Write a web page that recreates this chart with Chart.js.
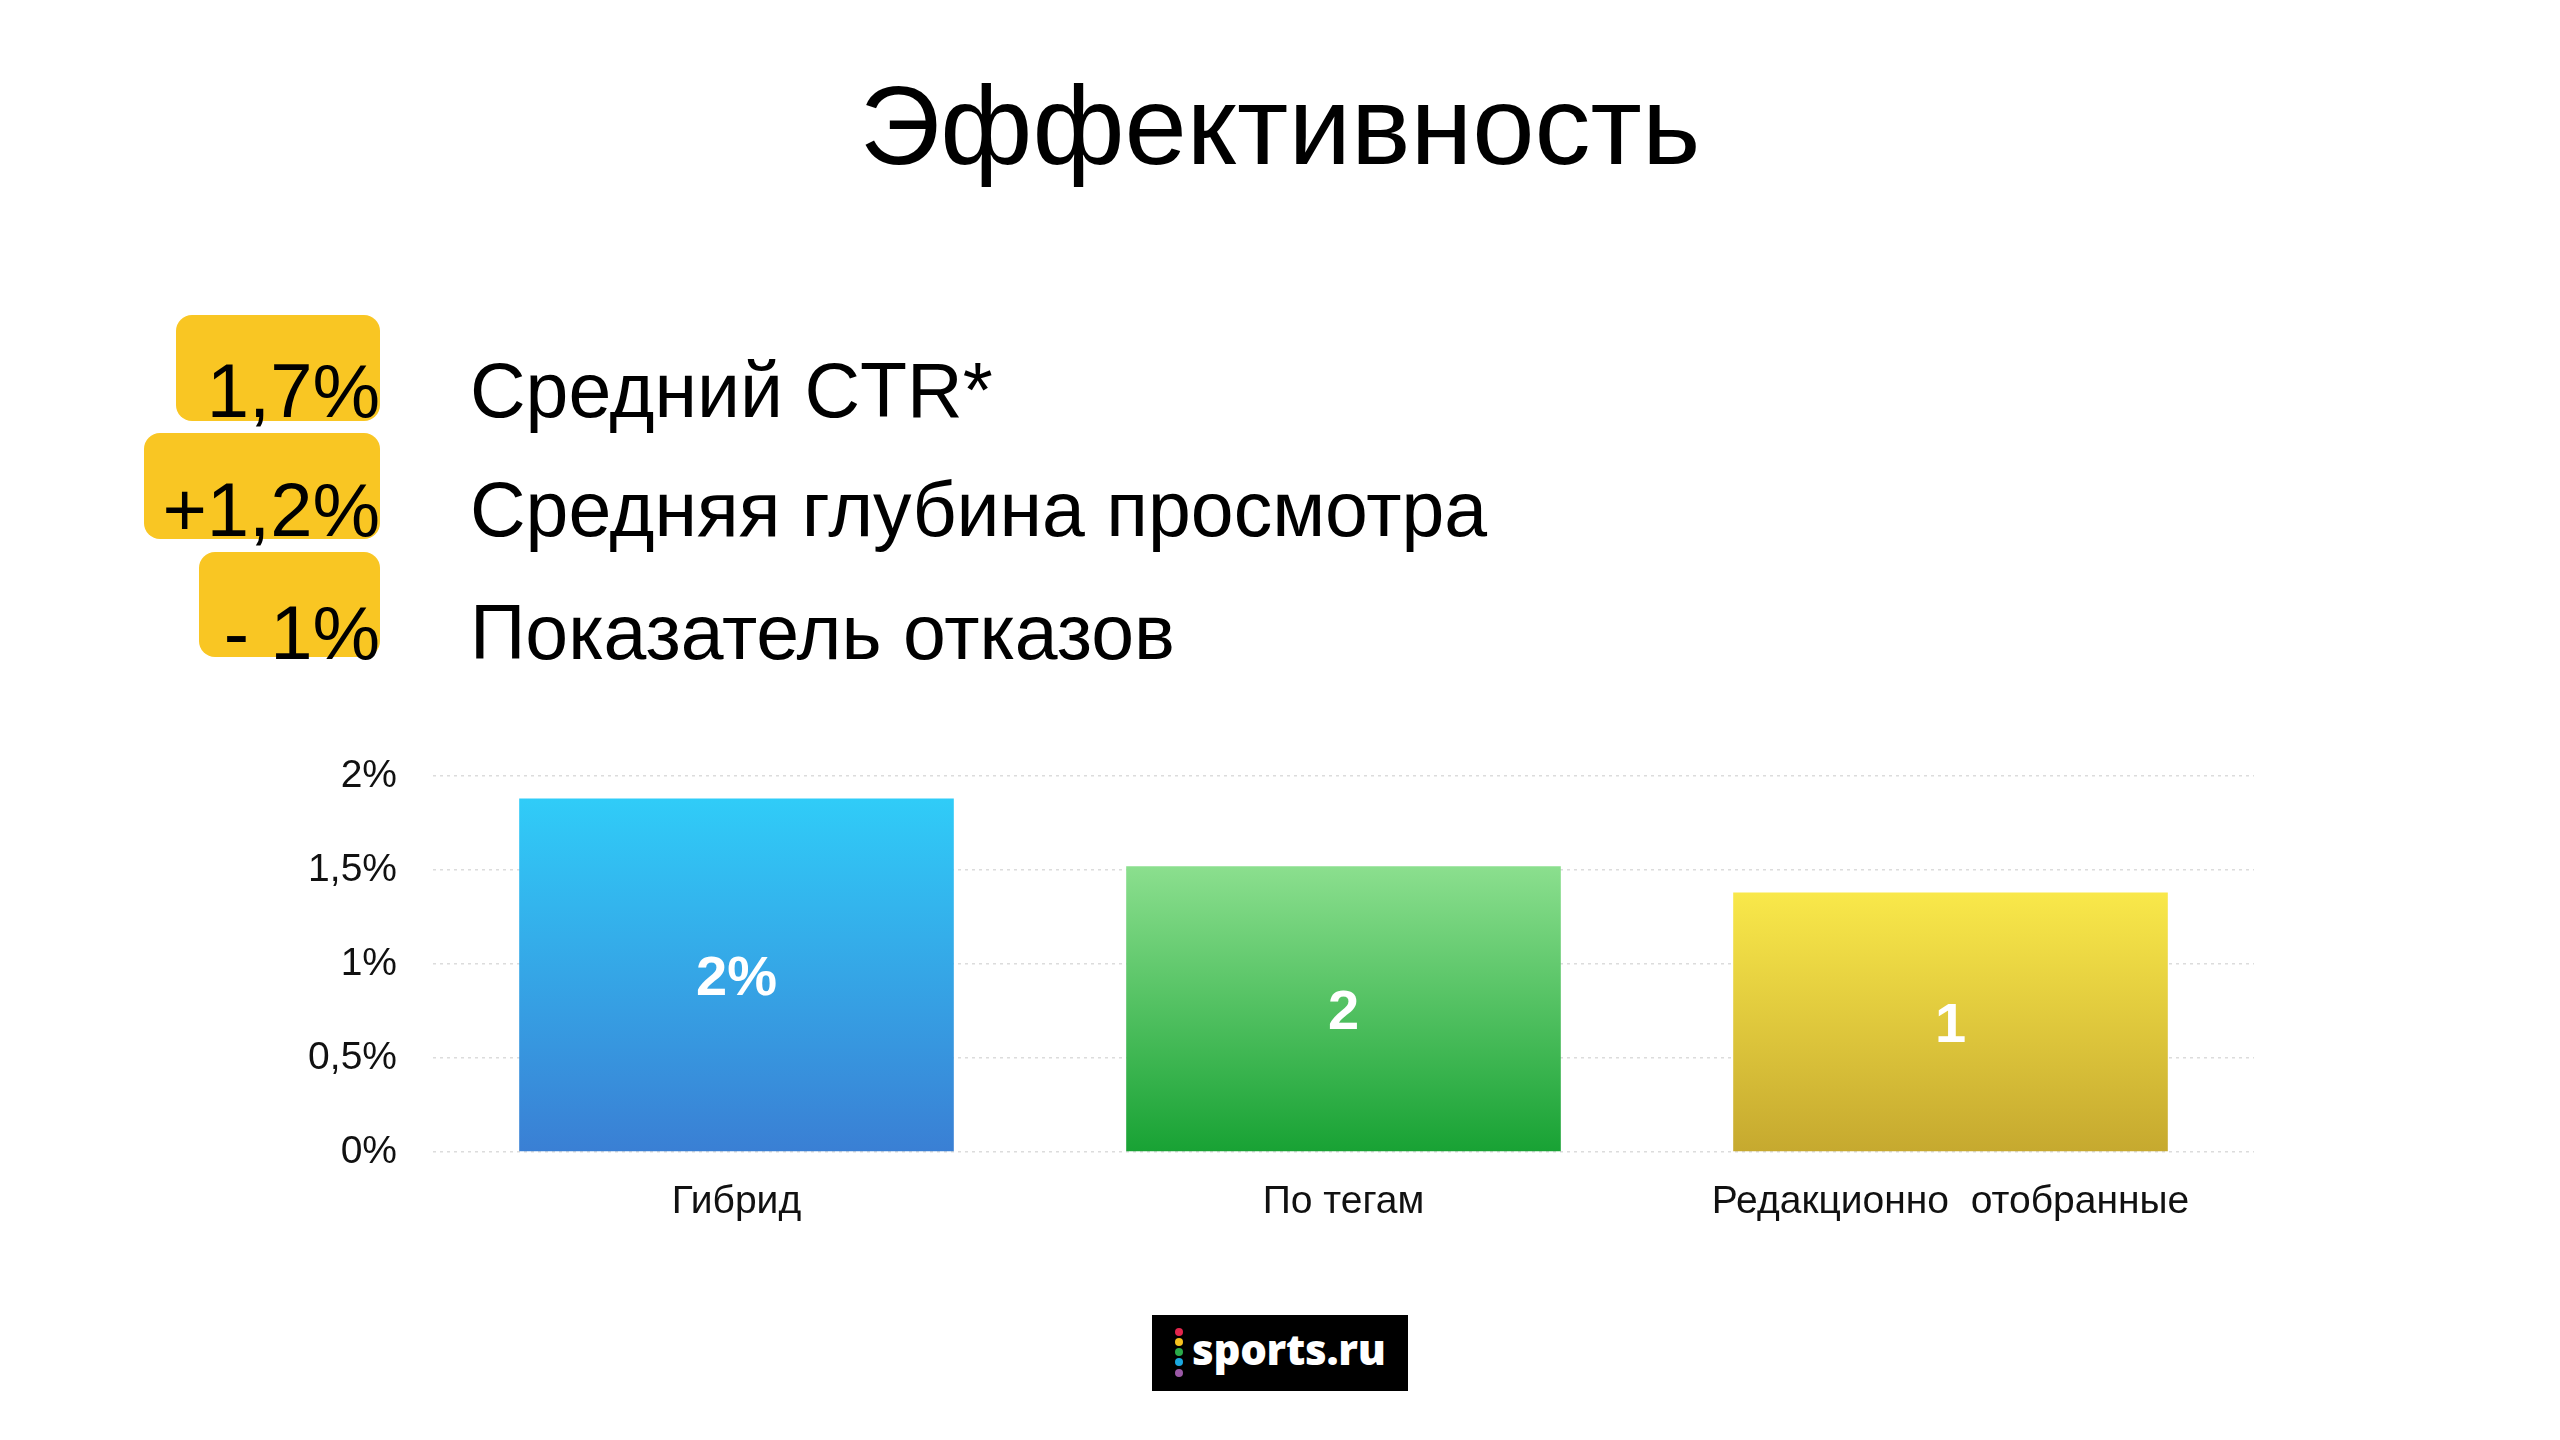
<!DOCTYPE html>
<html>
<head>
<meta charset="utf-8">
<script src="https://cdn.jsdelivr.net/npm/chart.js@4"></script>
<style>
  html, body { margin:0; padding:0; background:#fff; }
  body { width:2560px; height:1440px; position:relative; overflow:hidden; font-family:"Liberation Sans", Arial, sans-serif; color:#000; }
  .title { position:absolute; left:0; width:2560px; top:70px; text-align:center; font-size:112px; line-height:1; }
  .kbox { position:absolute; background:#F9C623; border-radius:16px; }
  .kval { position:absolute; right:2180px; font-size:76px; line-height:1; text-align:right; white-space:nowrap; }
  .klab { position:absolute; left:470px; font-size:77px; line-height:1; white-space:nowrap; }
  #chartWrap { position:absolute; left:0; top:730px; width:2262px; height:510px; }
  .logo { position:absolute; left:1152px; top:1315px; width:256px; height:76px; background:#000; }
  .logo .dot { position:absolute; left:23px; width:8px; height:8px; border-radius:50%; }
  .logo .txt { position:absolute; left:40px; top:4px; font-family:"Open Sans", sans-serif; font-weight:800; font-size:42px; color:#fff; line-height:60px; letter-spacing:-0.3px; }
</style>
</head>
<body>
<div class="title">Эффективность</div>

<div class="kbox" style="left:176px; top:315px; width:204px; height:106px;"></div>
<div class="kbox" style="left:144px; top:433px; width:236px; height:106px;"></div>
<div class="kbox" style="left:199px; top:552px; width:181px; height:105px;"></div>

<div id="kpis"></div>

<div id="chartWrap"><canvas id="c"></canvas></div>

<div class="logo">
  <div class="dot" style="top:13px; background:#E2264D;"></div>
  <div class="dot" style="top:23px; background:#F7C21F;"></div>
  <div class="dot" style="top:33px; background:#2BAA4A;"></div>
  <div class="dot" style="top:43px; background:#1BA8E0;"></div>
  <div class="dot" style="top:54px; background:#9B59A6;"></div>
  <div class="txt">sports.ru</div>
</div>

<script>
// ---- data ----
const kpiValues = ['1,7%', '+1,2%', '- 1%'];
const kpiLabels = ['Средний CTR*', 'Средняя глубина просмотра', 'Показатель отказов'];

const categories = ['Гибрид', 'По тегам', 'Редакционно  отобранные'];
const ctrValues = [1.88, 1.52, 1.38];
const barLabels = ['2%', '2', '1'];
const yTickValues = [0, 0.5, 1, 1.5, 2];
const yTickLabels = ['0%', '0,5%', '1%', '1,5%', '2%'];

const barTopColors = ['#30CCF8', '#8BDF8E', '#F9E84A'];
const barBottomColors = ['#3A7FD4', '#18A234', '#C6A92F'];

// ---- KPI rows ----
const kpiTops = [353, 472, 595];
const kpiHost = document.getElementById('kpis');
kpiValues.forEach((v, i) => {
  const a = document.createElement('div');
  a.className = 'kval'; a.style.top = kpiTops[i] + 'px'; a.textContent = v;
  kpiHost.appendChild(a);
  const b = document.createElement('div');
  b.className = 'klab'; b.style.top = (kpiTops[i] - 1) + 'px'; b.textContent = kpiLabels[i];
  kpiHost.appendChild(b);
});

// ---- chart ----
const valueLabelPlugin = {
  id: 'valueLabels',
  afterDatasetsDraw(chart) {
    const ctx = chart.ctx;
    const meta = chart.getDatasetMeta(0);
    ctx.save();
    ctx.fillStyle = '#fff';
    ctx.font = 'bold 56px "Liberation Sans", Arial, sans-serif';
    ctx.textAlign = 'center';
    ctx.textBaseline = 'middle';
    meta.data.forEach((el, i) => {
      ctx.fillText(barLabels[i], el.x, (el.y + el.base) / 2 + 5);
    });
    ctx.restore();
  }
};

new Chart(document.getElementById('c'), {
  type: 'bar',
  data: {
    labels: categories,
    datasets: [{
      data: ctrValues,
      backgroundColor(context) {
        const chart = context.chart;
        const i = context.dataIndex;
        if (!chart.chartArea || i === undefined) return barTopColors[0];
        const ys = chart.scales.y;
        const top = ys.getPixelForValue(ctrValues[i]);
        const bottom = ys.getPixelForValue(0);
        const g = chart.ctx.createLinearGradient(0, top, 0, bottom);
        g.addColorStop(0, barTopColors[i]);
        g.addColorStop(1, barBottomColors[i]);
        return g;
      },
      borderWidth: 0,
      barPercentage: 0.716,
      categoryPercentage: 1.0
    }]
  },
  options: {
    responsive: true,
    maintainAspectRatio: false,
    animation: false,
    layout: { padding: { top: 46, right: 8, left: 0, bottom: 0 } },
    plugins: { legend: { display: false }, tooltip: { enabled: false } },
    scales: {
      x: {
        grid: { display: false },
        border: { display: false },
        ticks: { color: '#111', font: { family: '"Liberation Sans", Arial, sans-serif', size: 39 }, padding: 19 },
        afterFit(scale) { scale.height = 88; scale.paddingLeft = 0; scale.paddingRight = 0; }
      },
      y: {
        min: 0, max: 2,
        afterBuildTicks(scale) { scale.ticks = yTickValues.map(v => ({ value: v })); },
        ticks: {
          color: '#111',
          font: { family: '"Liberation Sans", Arial, sans-serif', size: 39 },
          padding: 36,
          callback(value) { const k = yTickValues.indexOf(value); return k >= 0 ? yTickLabels[k] : ''; }
        },
        grid: { color: '#dcdcdc', lineWidth: 1.5, drawTicks: false },
        border: { display: false, dash: [3, 4] },
        afterFit(scale) { scale.width = 433; scale.paddingTop = 0; scale.paddingBottom = 0; }
      }
    }
  },
  plugins: [valueLabelPlugin]
});
</script>
</body>
</html>
